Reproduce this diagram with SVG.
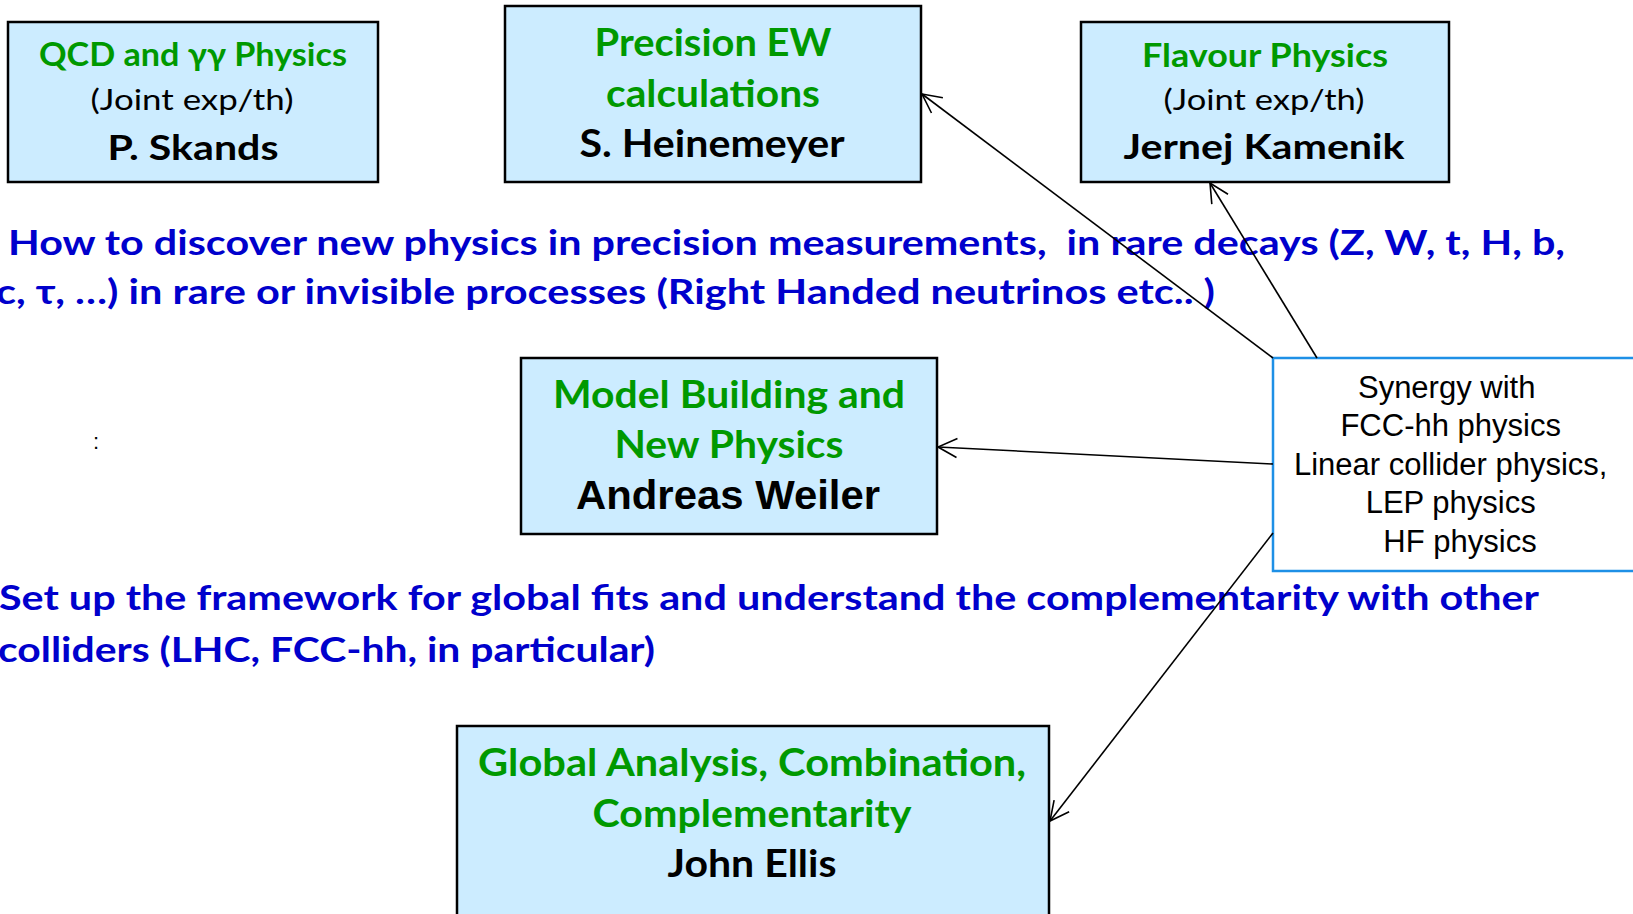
<svg xmlns="http://www.w3.org/2000/svg" width="1633" height="914" viewBox="0 0 1633 914">
<style>
.box{fill:#CCECFF;stroke:#000;stroke-width:2.5}
.syn{fill:#fff;stroke:#1E90E6;stroke-width:2.5}
.cal{font-family:Lato,"Open Sans","Liberation Sans",sans-serif;text-anchor:middle}
.g{fill:#009900;font-weight:bold}
.k{fill:#000}
.kb{fill:#000;font-weight:bold}
.blue{font-family:Lato,"Open Sans","Liberation Sans",sans-serif;font-weight:bold;fill:#0000CC;font-size:34px}
.ar{font-family:"Liberation Sans",Arial,sans-serif;fill:#000}
.con{stroke:#000;stroke-width:1.6;fill:none;marker-end:url(#arr)}
</style>
<defs>
<marker id="arr" markerUnits="userSpaceOnUse" markerWidth="24" markerHeight="24" viewBox="0 0 24 24" refX="21" refY="12" orient="auto">
<path d="M2,2.5 L21,12 L2,21.5" fill="none" stroke="#000" stroke-width="1.6"/>
</marker>
</defs>
<rect width="1633" height="914" fill="#fff"/>

<g id="qcd">
<rect class="box" x="8" y="22" width="370" height="160"/>
<text class="cal g" x="193" y="66" font-size="33" textLength="308" lengthAdjust="spacingAndGlyphs">QCD and γγ Physics</text>
<text class="cal k" x="192" y="110" font-size="29" textLength="203" lengthAdjust="spacingAndGlyphs">(Joint exp/th)</text>
<text class="cal kb" x="193" y="160" font-size="34" textLength="171" lengthAdjust="spacingAndGlyphs">P. Skands</text>
</g>

<g id="precision">
<rect class="box" x="505" y="6" width="416" height="176"/>
<text class="cal g" x="713" y="56" font-size="38" textLength="237" lengthAdjust="spacingAndGlyphs">Precision EW</text>
<text class="cal g" x="713" y="107" font-size="38" textLength="214" lengthAdjust="spacingAndGlyphs">calculations</text>
<text class="cal kb" x="712" y="157" font-size="38" textLength="265" lengthAdjust="spacingAndGlyphs">S. Heinemeyer</text>
</g>

<g id="flavour">
<rect class="box" x="1081" y="22" width="368" height="160"/>
<text class="cal g" x="1265" y="67" font-size="33" textLength="246" lengthAdjust="spacingAndGlyphs">Flavour Physics</text>
<text class="cal k" x="1264" y="110" font-size="29" textLength="201" lengthAdjust="spacingAndGlyphs">(Joint exp/th)</text>
<text class="cal kb" x="1264" y="159" font-size="35" textLength="281" lengthAdjust="spacingAndGlyphs">Jernej Kamenik</text>
</g>

<g id="text-rare">
<text class="blue" x="8" y="255" textLength="1557" lengthAdjust="spacingAndGlyphs">How to discover new physics in precision measurements,&#160; in rare decays (Z, W, t, H, b,</text>
<text class="blue" x="-4" y="304" textLength="1219" lengthAdjust="spacingAndGlyphs">c, τ, …) in rare or invisible processes (Right Handed neutrinos etc.. )</text>
</g>

<g id="colon">
<text class="ar" x="93" y="449" font-size="22">:</text>
</g>

<g id="model">
<rect class="box" x="521" y="358" width="416" height="176"/>
<text class="cal g" x="729" y="408" font-size="38" textLength="352" lengthAdjust="spacingAndGlyphs">Model Building and</text>
<text class="cal g" x="729" y="458" font-size="38" textLength="229" lengthAdjust="spacingAndGlyphs">New Physics</text>
<text class="ar" x="728" y="509" font-size="40" font-weight="bold" text-anchor="middle" textLength="304" lengthAdjust="spacingAndGlyphs">Andreas Weiler</text>
</g>

<g id="synergy">
<rect class="syn" x="1273" y="358" width="380" height="213"/>
<text class="ar" font-size="31" text-anchor="middle">
<tspan x="1451" y="398">Synergy with</tspan>
<tspan x="1455" y="436">FCC-hh physics</tspan>
<tspan x="1455" y="475">Linear collider physics,</tspan>
<tspan x="1455" y="513">LEP physics</tspan>
<tspan x="1460" y="552">HF physics</tspan>
</text>
</g>

<g id="text-global">
<text class="blue" x="-1" y="610" textLength="1540" lengthAdjust="spacingAndGlyphs">Set up the framework for global fits and understand the complementarity with other</text>
<text class="blue" x="-2" y="662" textLength="657" lengthAdjust="spacingAndGlyphs">colliders (LHC, FCC-hh, in particular)</text>
</g>

<g id="global">
<rect class="box" x="457" y="726" width="592" height="200"/>
<text class="cal g" x="752" y="776" font-size="38" textLength="548" lengthAdjust="spacingAndGlyphs">Global Analysis, Combination,</text>
<text class="cal g" x="752" y="827" font-size="38" textLength="319" lengthAdjust="spacingAndGlyphs">Complementarity</text>
<text class="cal kb" x="752" y="877" font-size="38" textLength="169" lengthAdjust="spacingAndGlyphs">John Ellis</text>
</g>

<g id="connectors">
<line class="con" x1="1273" y1="358" x2="922" y2="94"/>
<line class="con" x1="1317" y1="358" x2="1210" y2="183"/>
<line class="con" x1="1273" y1="464" x2="938" y2="447"/>
<line class="con" x1="1273" y1="533" x2="1050" y2="821"/>
</g>
</svg>
